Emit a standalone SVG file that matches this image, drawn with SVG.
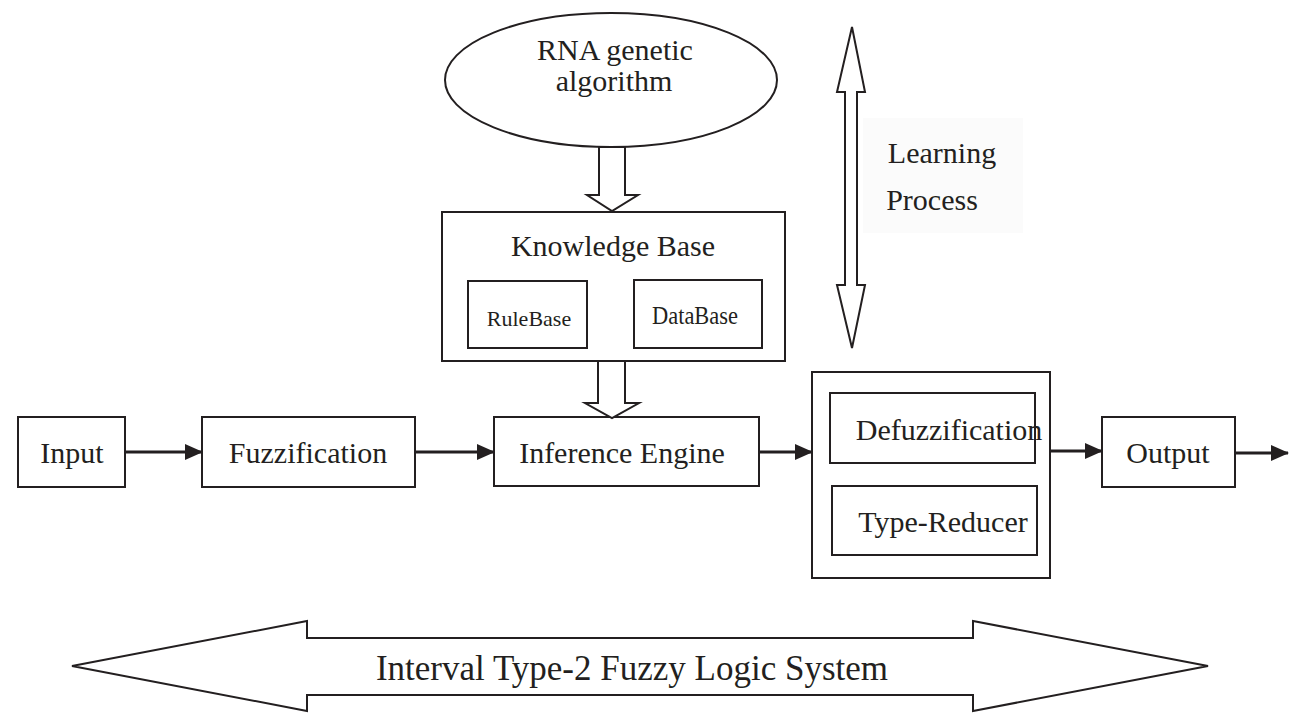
<svg xmlns="http://www.w3.org/2000/svg" width="1292" height="715" viewBox="0 0 1292 715">
<defs>
<style>
.box{fill:#ffffff;stroke:#231f20;stroke-width:2}
.blk{fill:#ffffff;stroke:#231f20;stroke-width:2;stroke-linejoin:miter}
.t{font-family:"Liberation Serif","Times New Roman",serif;fill:#231f20;text-anchor:middle}
.f30{font-size:30px}
.line{stroke:#231f20;stroke-width:3;fill:none}
</style>
<marker id="ah" markerWidth="18" markerHeight="16" refX="17" refY="8" orient="auto" markerUnits="userSpaceOnUse">
<path d="M0,0 L18,8 L0,16 Z" fill="#231f20"/>
</marker>
</defs>
<rect width="1292" height="715" fill="#ffffff"/>

<g id="bg-learning"><rect x="863" y="118" width="160" height="115" fill="#fbfbfb"/></g>

<g id="ga">
<ellipse class="box" cx="611" cy="80" rx="166" ry="67"/>
<text class="t" x="615" y="60" font-size="30">RNA genetic</text>
<text class="t" x="614" y="91" font-size="30">algorithm</text>
</g>

<g id="kb">
<rect class="box" x="442" y="212" width="343" height="149"/>
<text class="t f30" x="613" y="256">Knowledge Base</text>
</g>
<g id="rulebase">
<rect class="box" x="468" y="281" width="119" height="67"/>
<text class="t" x="529" y="326" font-size="22">RuleBase</text>
</g>
<g id="database">
<rect class="box" x="634" y="280" width="128" height="68" stroke-width="2.6"/>
<text class="t" x="695" y="324" font-size="25" textLength="86" lengthAdjust="spacingAndGlyphs">DataBase</text>
</g>

<g id="input">
<rect class="box" x="18" y="417" width="107" height="70"/>
<text class="t f30" x="72" y="463">Input</text>
</g>
<g id="fuzz">
<rect class="box" x="202" y="417" width="213" height="70"/>
<text class="t f30" x="308" y="463">Fuzzification</text>
</g>
<g id="inference">
<rect class="box" x="494" y="417" width="265" height="69"/>
<text class="t f30" x="622" y="463">Inference Engine</text>
</g>
<g id="outproc">
<rect class="box" x="812" y="372" width="238" height="206"/>
</g>
<g id="defuzz">
<rect class="box" x="830" y="393" width="205" height="70"/>
<text class="t f30" x="949" y="440">Defuzzification</text>
</g>
<g id="typered">
<rect class="box" x="832" y="486" width="205" height="69"/>
<text class="t f30" x="943" y="532">Type-Reducer</text>
</g>
<g id="output">
<rect class="box" x="1102" y="417" width="133" height="70"/>
<text class="t f30" x="1168" y="463">Output</text>
</g>

<g id="learning">
<path class="blk" d="M852,27 L865,92 L857,92 L857,285 L865,285 L852,348 L837,285 L845,285 L845,92 L837,92 Z"/>
<text class="t f30" x="942" y="163">Learning</text>
<text class="t f30" x="932" y="210">Process</text>
</g>

<g id="system">
<path class="blk" d="M72,666 L307,621 L307,638 L973,638 L973,621 L1208,666 L973,711 L973,695 L307,695 L307,711 Z"/>
<text class="t" x="632" y="680" font-size="35">Interval Type-2 Fuzzy Logic System</text>
</g>

<g id="connectors">
<path class="blk" d="M599,147 L625,147 L625,195 L638,195 L612,211 L587,195 L599,195 Z"/>
<path class="blk" d="M598,361 L625,361 L625,403 L639,403 L612,418 L585,403 L598,403 Z"/>
<line class="line" x1="125" y1="452" x2="202" y2="452" marker-end="url(#ah)"/>
<line class="line" x1="415" y1="452" x2="494" y2="452" marker-end="url(#ah)"/>
<line class="line" x1="759" y1="452" x2="812" y2="452" marker-end="url(#ah)"/>
<line class="line" x1="1050" y1="451" x2="1102" y2="451" marker-end="url(#ah)"/>
<line class="line" x1="1235" y1="453" x2="1288" y2="453" marker-end="url(#ah)"/>
</g>
</svg>
